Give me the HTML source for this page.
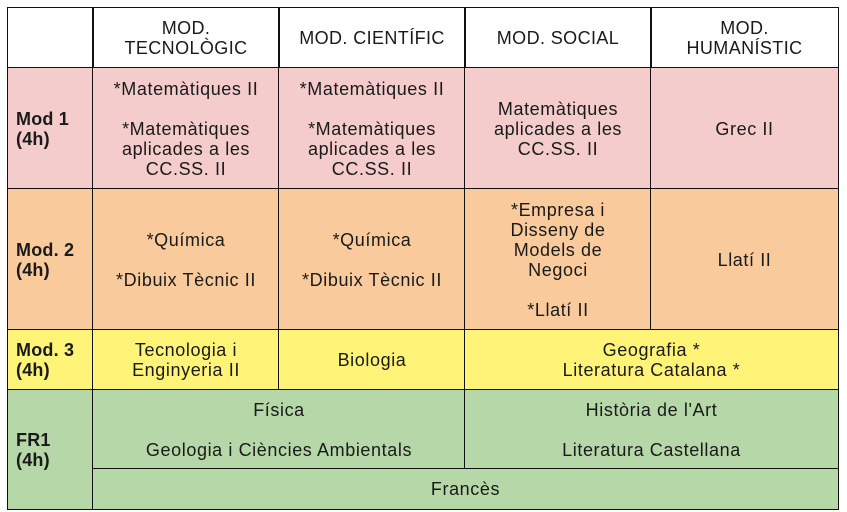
<!DOCTYPE html>
<html><head><meta charset="utf-8"><style>
body{margin:0;width:847px;height:512px;background:#fff;font-family:"Liberation Sans",sans-serif;color:#1a1a1a;position:relative;overflow:hidden}
.c{position:absolute;box-sizing:border-box;border:1.5px solid #111;display:flex;align-items:center;justify-content:center;text-align:center;font-size:18px;letter-spacing:0.6px;line-height:20px;flex-direction:column;white-space:nowrap}
.l{justify-content:center;align-items:flex-start;text-align:left;padding-left:8px;font-weight:bold;letter-spacing:0.2px}
.h{font-size:18px;line-height:20px;font-weight:normal;letter-spacing:0.4px}
.p{background:#f4cccc}.o{background:#f9cb9c}.y{background:#fff478}.g{background:#b6d7a8}
</style></head><body>
<div class="c" style="left:7px;top:7px;width:87px;height:62px"></div>
<div class="c h" style="left:92px;top:7px;width:188px;height:62px">MOD.<br>TECNOLÒGIC</div>
<div class="c h" style="left:278px;top:7px;width:188px;height:62px">MOD. CIENTÍFIC</div>
<div class="c h" style="left:464px;top:7px;width:188px;height:62px">MOD. SOCIAL</div>
<div class="c h" style="left:650px;top:7px;width:189px;height:62px">MOD.<br>HUMANÍSTIC</div>

<div class="c p l" style="left:7px;top:67px;width:87px;height:123px">Mod 1<br>(4h)</div>
<div class="c p" style="left:92px;top:67px;width:188px;height:123px">*Matemàtiques II<br><br>*Matemàtiques<br>aplicades a les<br>CC.SS. II</div>
<div class="c p" style="left:278px;top:67px;width:188px;height:123px">*Matemàtiques II<br><br>*Matemàtiques<br>aplicades a les<br>CC.SS. II</div>
<div class="c p" style="left:464px;top:67px;width:188px;height:123px">Matemàtiques<br>aplicades a les<br>CC.SS. II</div>
<div class="c p" style="left:650px;top:67px;width:189px;height:123px">Grec II</div>

<div class="c o l" style="left:7px;top:188px;width:87px;height:143px">Mod. 2<br>(4h)</div>
<div class="c o" style="left:92px;top:188px;width:188px;height:143px">*Química<br><br>*Dibuix Tècnic II</div>
<div class="c o" style="left:278px;top:188px;width:188px;height:143px">*Química<br><br>*Dibuix Tècnic II</div>
<div class="c o" style="left:464px;top:188px;width:188px;height:143px">*Empresa i<br>Disseny de<br>Models de<br>Negoci<br><br>*Llatí II</div>
<div class="c o" style="left:650px;top:188px;width:189px;height:143px">Llatí II</div>

<div class="c y l" style="left:7px;top:329px;width:87px;height:62px">Mod. 3<br>(4h)</div>
<div class="c y" style="left:92px;top:329px;width:188px;height:62px">Tecnologia i<br>Enginyeria II</div>
<div class="c y" style="left:278px;top:329px;width:188px;height:62px">Biologia</div>
<div class="c y" style="left:464px;top:329px;width:375px;height:62px">Geografia *<br>Literatura Catalana *</div>

<div class="c g l" style="left:7px;top:389px;width:87px;height:121px">FR1<br>(4h)</div>
<div class="c g" style="left:92px;top:389px;width:374px;height:81px">Física<br><br>Geologia i Ciències Ambientals</div>
<div class="c g" style="left:464px;top:389px;width:375px;height:81px">Història de l'Art<br><br>Literatura Castellana</div>
<div class="c g" style="left:92px;top:468px;width:747px;height:42px">Francès</div>
</body></html>
